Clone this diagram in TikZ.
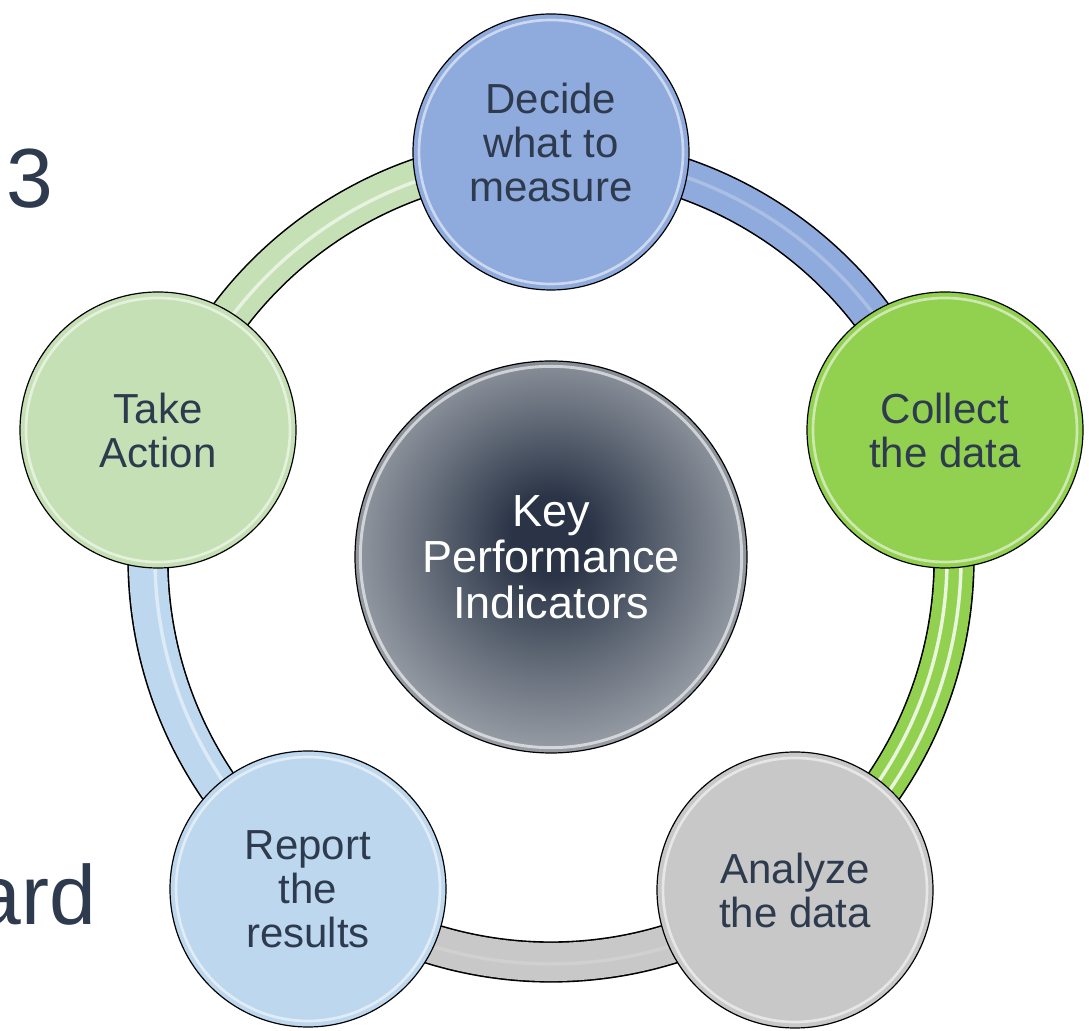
\documentclass[tikz,border=0pt]{standalone}
\usepackage{fontspec}
\setmainfont{Liberation Sans}
\definecolor{txt}{RGB}{46,59,79}
\definecolor{cblue}{RGB}{143,170,220}
\definecolor{cgreen}{RGB}{146,208,80}
\definecolor{cgray}{RGB}{200,200,200}
\definecolor{clblue}{RGB}{189,215,238}
\definecolor{clgreen}{RGB}{197,224,180}
\definecolor{kdark}{RGB}{42,52,70}
\definecolor{kmid}{RGB}{110,118,130}
\definecolor{kgray}{RGB}{186,189,194}
\pgfdeclareradialshading{kpishade}{\pgfpoint{0bp}{3bp}}{color(0bp)=(kdark); color(5bp)=(kdark); color(18bp)=(kmid); color(33bp)=(kgray); color(50bp)=(kgray)}
\newcommand\ringband[4]{% color, start, end, stripes
  \draw[line width=31pt, black] (O) ++(#2:403) arc[start angle=#2, end angle=#3, radius=403];
  \draw[line width=28.6pt, #1] (O) ++(#2:403) arc[start angle=#2, end angle=#3, radius=403];
  \foreach \rr/\op in {#4} {
    \draw[line width=2.6pt, white, opacity=\op] (O) ++(#2:\rr) arc[start angle=#2, end angle=#3, radius=\rr];
  }
}
\tikzset{
  stage/.style={circle, draw=black, line width=0.9pt, minimum size=207pt, inner sep=0pt,
    align=center, text=txt, font=\fontsize{31.5pt}{33pt}\selectfont,
    path picture={\draw[white, opacity=0.55, line width=2pt]
      (path picture bounding box.center) circle[radius=99pt];}},
  hub/.style={circle, draw=black, line width=0.9pt, minimum size=294pt, inner sep=0pt,
    align=center, text=white, shading=kpishade, font=\fontsize{33.75pt}{34.5pt}\selectfont,
    path picture={\draw[white, opacity=0.6, line width=2.2pt]
      (path picture bounding box.center) circle[radius=143pt];}},
  bigtext/.style={text=txt, font=\fontsize{63pt}{63pt}\selectfont, inner sep=0pt}
}
\begin{document}
\begin{tikzpicture}[x=0.75pt, y=0.75pt]
\useasboundingbox (0,0) rectangle (1089,1031);
\coordinate (O) at (551,472);
% ring bands
\ringband{cblue}{90}{18}{405/0.25}
\ringband{cgreen}{18}{-54}{396/0.8,410/0.8}
\ringband{cgray}{-54}{-126}{405/0.15}
\ringband{clblue}{-126}{-198}{396/0.5}
\ringband{clgreen}{162}{90}{401/0.6}
% nodes
\node[hub] (kpi) at (551,474) {Key\\Performance\\Indicators};
\node[stage, fill=cblue, text depth=14pt] (decide) at (551,879) {Decide\\what to\\measure};
\node[stage, fill=cgreen] (collect) at (945,601) {Collect\\the data};
\node[stage, fill=cgray] (analyze) at (795,141) {Analyze\\the data};
\node[stage, fill=clblue] (report) at (308,142) {Report\\the\\results};
\node[stage, fill=clgreen] (action) at (158,601) {Take\\Action};
% cut-off slide text
\node[bigtext, anchor=base west] (three) at (6,823) {3};
\node[bigtext, anchor=base east] (ard) at (96,106) {ard};
\end{tikzpicture}
\end{document}
